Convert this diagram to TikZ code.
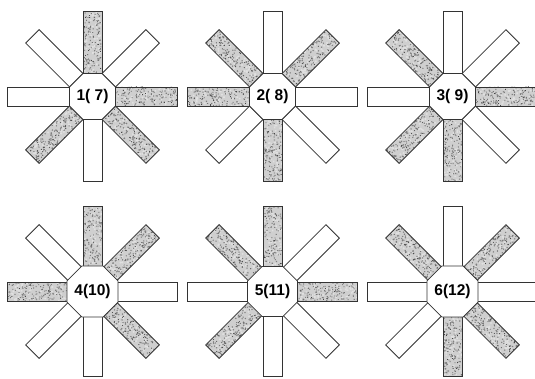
\documentclass[tikz,border=0pt]{standalone}
\usepackage{fontspec}
\setmainfont{Liberation Sans}
\usetikzlibrary{shapes.geometric}
\begin{document}
\begin{tikzpicture}[x=1pt,y=1pt,
  armline/.style={draw=black!80, line width=0.8pt, line join=miter},
  plainarm/.style={armline, fill=white},
  hub/.style={regular polygon, regular polygon sides=8, minimum size=49.8pt,
    inner sep=0pt, outer sep=0pt, armline, fill=white,
    font=\fontsize{15.5}{16}\bfseries\selectfont}
]
\pgfmathsetseed{4217}
\useasboundingbox (0,0) rectangle (535,378);
\fill[white] (0,0) rectangle (535,378);

% one path of random grains inside an arm: #1 colour, #2 count, #3 grain size
\newcommand\grains[3]{%
  \fill[#1] \foreach \k in {1,...,#2} {
    ({23+62*rnd},{-9.5+19*rnd}) rectangle ++(#3,#3)
  };}

% #1 hub name, #2 x, #3 y, #4 speckled arm angles, #5 plain arm angles, #6 label
\newcommand\starfig[6]{%
\begin{scope}[shift={(#2,#3)}]
  \foreach \a in {#5} {
    \draw[plainarm, rotate=\a] (23,-9.5) rectangle (85,9.5);
  }
  \foreach \a in {#4} {
    \begin{scope}[rotate=\a]
      \fill[gray!38] (23,-9.5) rectangle (85,9.5);
      \begin{scope}
        \clip (23,-9.5) rectangle (85,9.5);
        \grains{black!12}{70}{1.6}
        \grains{black!50}{80}{1.1}
        \grains{black!72}{70}{0.8}
      \end{scope}
      \draw[armline] (23,-9.5) rectangle (85,9.5);
    \end{scope}
  }
  \node[hub] (#1) at (0,0) {#6};
\end{scope}}

\starfig{s1}{92.5}{281.5}{90,0,315,225}{135,180,270,45}{1( 7)}
\starfig{s2}{272.5}{281.5}{135,45,180,270}{90,0,225,315}{2( 8)}
\starfig{s3}{452.5}{281.5}{135,0,225,270}{90,45,180,315}{3( 9)}
\starfig{s4}{92.5}{86.5}{90,45,180,315}{135,0,225,270}{4(10)}
\starfig{s5}{272.5}{86.5}{135,90,0,225}{45,180,270,315}{5(11)}
\starfig{s6}{452.5}{86.5}{135,45,270,315}{90,0,180,225}{6(12)}
\end{tikzpicture}
\end{document}
